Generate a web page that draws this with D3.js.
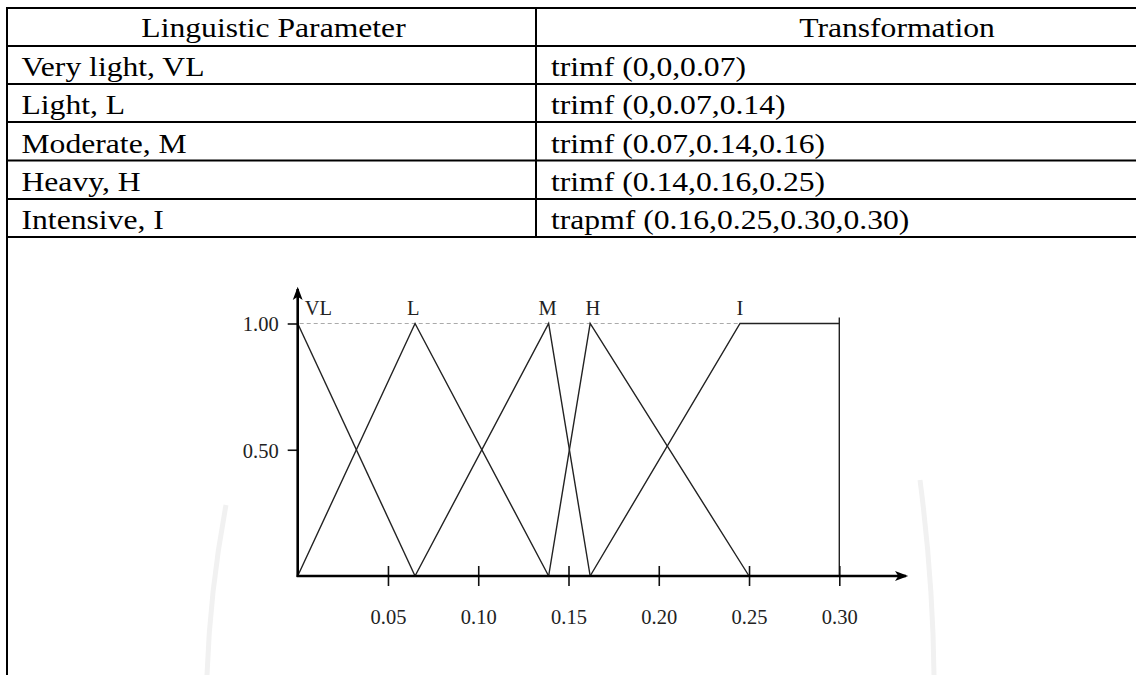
<!DOCTYPE html>
<html>
<head>
<meta charset="utf-8">
<script src="https://cdn.jsdelivr.net/npm/d3@7"></script>
<style>
  html, body { margin:0; padding:0; background:#fff; }
  svg { display:block; }
</style>
</head>
<body>
<div id="vis"></div>
<script>
(function(){

/* ---------- data ---------- */
const paramNames = ["Very light, VL", "Light, L", "Moderate, M", "Heavy, H", "Intensive, I"];
const transforms = ["trimf (0,0,0.07)", "trimf (0,0.07,0.14)", "trimf (0.07,0.14,0.16)",
                    "trimf (0.14,0.16,0.25)", "trapmf (0.16,0.25,0.30,0.30)"];
const headers = ["Linguistic Parameter", "Transformation"];

// membership set labels and breakpoints as drawn in the figure
const setLabels = ["VL", "L", "M", "H", "I"];
const setPoints = [
  [[0,1],[0.065,0]],
  [[0,0],[0.065,1],[0.139,0]],
  [[0.065,0],[0.139,1],[0.162,0]],
  [[0.139,0],[0.162,1],[0.25,0]],
  [[0.162,0],[0.245,1],[0.30,1],[0.30,0]]
];
const labelAt = [0.0115, 0.064, 0.1385, 0.1635, 0.245];

const xTicks = [0.05, 0.10, 0.15, 0.20, 0.25, 0.30];
const yTicks = [0.50, 1.00];

/* ---------- svg ---------- */
const W = 1136, H = 675;
const svg = d3.select("#vis").append("svg")
    .attr("width", W).attr("height", H);

const serif = "'Liberation Serif', 'Times New Roman', serif";

/* faint watermark traces behind everything */
const wm = svg.append("g").attr("class","watermark")
    .attr("fill","none").attr("stroke","#f1f1f1").attr("stroke-width",5);
wm.append("path").attr("d","M226,505 Q210,590 207,675");
wm.append("path").attr("d","M920,480 Q933,580 934,675");

/* ---------- table ---------- */
const tLeft = 7, tMid = 536, tRight = 1145;
const rowLines = [8, 46, 84, 122, 160.5, 199, 237];
const stretch = 1.13;

const tbl = svg.append("g").attr("class","table");

tbl.selectAll("line.h").data(rowLines).enter().append("line")
    .attr("x1", tLeft).attr("x2", tRight)
    .attr("y1", d=>d).attr("y2", d=>d)
    .attr("stroke","#000").attr("stroke-width",2);

tbl.append("line")
    .attr("x1", tLeft).attr("x2", tLeft)
    .attr("y1", rowLines[0]-1).attr("y2", H)
    .attr("stroke","#000").attr("stroke-width",2);
tbl.append("line")
    .attr("x1", tMid).attr("x2", tMid)
    .attr("y1", rowLines[0]-1).attr("y2", rowLines[6]+1)
    .attr("stroke","#000").attr("stroke-width",2);

function cellText(str, x, y, anchor){
  tbl.append("text")
    .attr("transform", `translate(${x},${y}) scale(${stretch},1)`)
    .attr("text-anchor", anchor)
    .style("font-family", serif)
    .style("font-size","28px")
    .style("fill","#000")
    .text(str);
}

cellText(headers[0], (tLeft+tMid)/2 + 2, rowLines[1]-9, "middle");
cellText(headers[1], 897, rowLines[1]-9, "middle");
paramNames.forEach((p,i)=> cellText(p, 21.5, rowLines[i+2]-8, "start"));
transforms.forEach((t,i)=> cellText(t, 551, rowLines[i+2]-8, "start"));

/* ---------- chart ---------- */
const x = d3.scaleLinear().domain([0,0.30]).range([297.7, 839.3]);
const y = d3.scaleLinear().domain([0,1]).range([576, 323.5]);

const chart = svg.append("g").attr("class","chart");

const defs = svg.append("defs");
defs.append("marker")
    .attr("id","arrow")
    .attr("viewBox","0 -5 12 10")
    .attr("refX",10).attr("refY",0)
    .attr("markerUnits","userSpaceOnUse")
    .attr("markerWidth",14).attr("markerHeight",11)
    .attr("orient","auto")
    .append("path")
    .attr("d","M0,-4.5L12,0L0,4.5L3,0Z")
    .attr("fill","#000");

// dashed reference at 1.00
chart.append("line")
    .attr("x1", x(0)+2).attr("x2", x(0.245))
    .attr("y1", y(1)).attr("y2", y(1))
    .attr("stroke","#aaa").attr("stroke-width",1.2)
    .attr("stroke-dasharray","4,3");

// membership functions
const line = d3.line().x(d=>x(d[0])).y(d=>y(d[1]));
chart.selectAll("path.mf").data(setPoints).enter().append("path")
    .attr("class","mf")
    .attr("d", line)
    .attr("fill","none")
    .attr("stroke","#222").attr("stroke-width",1.4);

// small overshoot on the 0.30 edge
chart.append("line")
    .attr("x1", x(0.30)).attr("x2", x(0.30))
    .attr("y1", y(1)-6).attr("y2", y(1))
    .attr("stroke","#222").attr("stroke-width",1.4);

// set labels
chart.selectAll("text.setlab").data(setLabels).enter().append("text")
    .attr("class","setlab")
    .attr("x",(d,i)=>x(labelAt[i]))
    .attr("y", 315)
    .attr("text-anchor","middle")
    .style("font-family", serif).style("font-size","20.5px").style("fill","#222")
    .text(d=>d);

// x axis
const xAxis = chart.append("g")
    .attr("transform",`translate(0,${y(0)})`)
    .call(d3.axisBottom(x).tickValues(xTicks).tickSize(10).tickFormat(d3.format(".2f")));
xAxis.select(".domain").remove();
xAxis.selectAll(".tick line")
    .attr("y1",-10).attr("y2",10)
    .attr("stroke","#111").attr("stroke-width",1.6);
xAxis.selectAll(".tick text")
    .attr("y",47.5).attr("dy",null)
    .style("font-family", serif).style("font-size","20.5px").style("fill","#222");

// y axis
const yAxis = chart.append("g")
    .attr("transform",`translate(${x(0)},0)`)
    .call(d3.axisLeft(y).tickValues(yTicks).tickSize(10).tickPadding(9).tickFormat(d3.format(".2f")));
yAxis.select(".domain").remove();
yAxis.selectAll(".tick line")
    .attr("stroke","#111").attr("stroke-width",1.6);
yAxis.selectAll(".tick text")
    .attr("dy","0.36em")
    .style("font-family", serif).style("font-size","20.5px").style("fill","#222");

// axis lines with arrows
chart.append("line")
    .attr("x1", x(0)-1).attr("x2", 906)
    .attr("y1", y(0)).attr("y2", y(0))
    .attr("stroke","#000").attr("stroke-width",2.6)
    .attr("marker-end","url(#arrow)");
chart.append("line")
    .attr("x1", x(0)).attr("x2", x(0))
    .attr("y1", y(0)+1).attr("y2", 289)
    .attr("stroke","#000").attr("stroke-width",2.6)
    .attr("marker-end","url(#arrow)");

})();
</script>
</body>
</html>
